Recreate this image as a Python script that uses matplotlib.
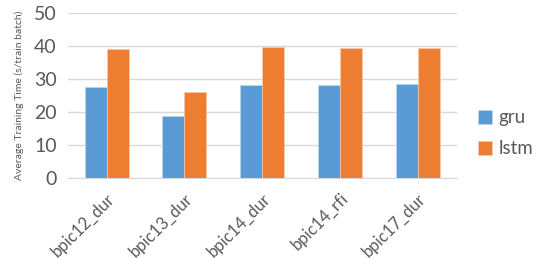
import matplotlib
matplotlib.use("Agg")
import matplotlib.pyplot as plt
import numpy as np

categories = ["bpic12_dur", "bpic13_dur", "bpic14_dur", "bpic14_rfi", "bpic17_dur"]
gru = [27.7, 18.9, 28.3, 28.1, 28.4]
lstm = [39.1, 26.1, 39.7, 39.5, 39.3]

plt.rcParams["font.family"] = ["Lato", "DejaVu Sans"]
TXT = "#595959"

fig = plt.figure(figsize=(5.38, 2.59), dpi=100)
ax = fig.add_axes([0.126, 0.313, 0.723, 0.637])

x = np.arange(len(categories))
w = 0.283
ax.bar(x - w / 2, gru, w, color="#5B9BD5", edgecolor="#BDD7EE", lw=0.5, label="gru", zorder=3)
ax.bar(x + w / 2, lstm, w, color="#ED7D31", edgecolor="#F8CBAD", lw=0.5, label="lstm", zorder=3)

ax.set_xlim(-0.5, len(categories) - 0.5)
ax.set_ylim(0, 50)
ax.set_yticks(range(0, 51, 10))
ax.yaxis.grid(True, color="#D9D9D9", lw=1, zorder=0)
for s in ("top", "right", "left"):
    ax.spines[s].set_visible(False)
ax.spines["bottom"].set_color("#D9D9D9")
ax.tick_params(length=0)
ax.tick_params(axis="y", labelsize=14, labelcolor=TXT, pad=8)
ax.set_xticks(x)
ax.set_xticklabels(categories, rotation=45, ha="right", rotation_mode="anchor",
                   fontsize=12, color=TXT)
ax.tick_params(axis="x", pad=9)
ax.set_ylabel("Average Training Time (s/train batch)", fontsize=7.5, color=TXT, labelpad=7)

ax.legend(loc="center left", bbox_to_anchor=(1.016, 0.27), frameon=False,
          fontsize=13.5, labelcolor=TXT, handlelength=0.75, handleheight=0.75,
          handletextpad=0.35, labelspacing=0.75, borderpad=0.3)

fig.savefig("out.png", dpi=100, facecolor="w")
